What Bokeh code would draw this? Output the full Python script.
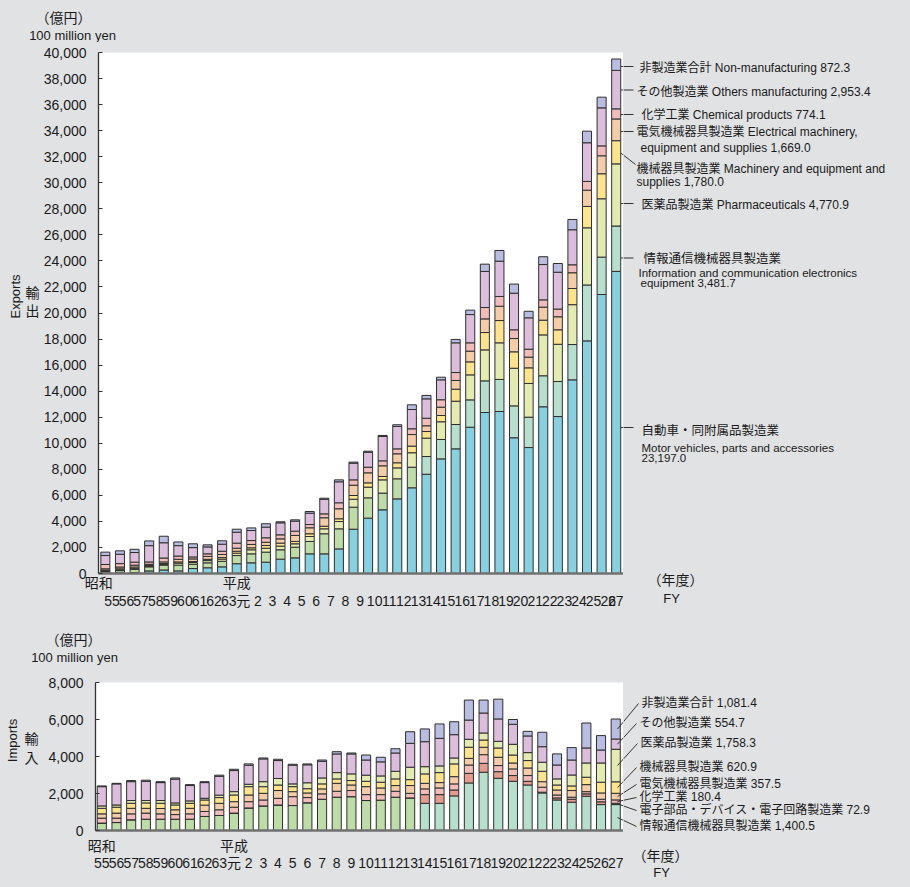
import numpy as np
from bokeh.plotting import figure
from bokeh.models import FixedTicker, Label, LinearAxis, Range1d, NumeralTickFormatter
from bokeh.layouts import column, row
from bokeh.embed import file_html
from bokeh.resources import INLINE

# ---------------- data ----------------
fiscal_years = ["55", "56", "57", "58", "59", "60", "61", "62", "63", "元",
                "2", "3", "4", "5", "6", "7", "8", "9", "10", "11", "12", "13", "14",
                "15", "16", "17", "18", "19", "20", "21", "22", "23", "24", "25", "26", "27"]
eras = ["昭和", "平成"]
era_first_index = [0, 9]

# Exports (100 million yen), stacked bottom -> top
ex_motor = [30, 50, 60, 200, 270, 200, 380, 440, 510, 750, 820, 870, 1100, 1200, 1510, 1510, 1890, 3400,
            4250, 4890, 5730, 6580, 7620, 8800, 9570, 11230, 12360, 12440, 10420, 9670, 12800, 12050,
            14870, 17860, 21420, 23197.0]
ex_info = [120, 170, 260, 310, 370, 440, 330, 380, 430, 630, 690, 770, 720, 820, 950, 1540, 1540, 1690,
           1560, 1280, 1540, 1580, 1360, 1490, 1870, 2100, 2430, 2460, 2450, 2330, 2380, 2690, 2710,
           4290, 2870, 3481.7]
ex_pharma = [50, 60, 80, 50, 60, 150, 130, 170, 160, 180, 310, 300, 280, 260, 380, 380, 560, 610, 820,
             1020, 840, 1110, 1410, 1360, 1790, 1920, 2380, 2810, 2890, 2590, 3140, 2860, 3060, 4390,
             4480, 4770.9]
ex_mach = [60, 80, 100, 50, 60, 100, 80, 100, 120, 150, 150, 210, 230, 180, 210, 200, 210, 290, 330, 260,
           390, 510, 510, 480, 920, 1000, 1330, 1710, 1260, 1200, 1130, 1110, 1240, 1640, 1920, 1780.0]
ex_elec = [100, 140, 140, 100, 130, 200, 200, 220, 240, 230, 260, 250, 330, 460, 460, 650, 770, 790, 770,
           820, 690, 890, 440, 640, 670, 820, 1050, 1100, 1020, 820, 1000, 1000, 1210, 1250, 1380, 1669.0]
ex_chem = [330, 260, 230, 180, 300, 250, 150, 200, 250, 390, 300, 340, 310, 330, 250, 300, 460, 410, 430,
           380, 380, 440, 580, 570, 610, 640, 870, 750, 670, 610, 560, 590, 610, 670, 760, 774.1]
ex_others = [690, 720, 740, 1250, 1170, 800, 720, 530, 540, 840, 770, 820, 920, 770, 870, 1120, 1610, 1280,
             1150, 1870, 1720, 1480, 1490, 1530, 2280, 2170, 2770, 2710, 2810, 2410, 2710, 2830, 2690,
             2970, 2920, 2953.4]
ex_nonmfg = [260, 260, 250, 360, 500, 280, 290, 160, 260, 230, 200, 260, 80, 100, 130, 80, 150, 80, 80, 80,
             130, 360, 260, 200, 260, 340, 560, 820, 700, 500, 600, 670, 790, 890, 820, 872.3]

# Imports (100 million yen), stacked bottom -> top
im_info = [400, 430, 580, 610, 610, 610, 610, 760, 810, 940, 1220, 1330, 1380, 1350, 1500, 1690, 1800, 1830,
           1620, 1640, 1800, 1760, 1470, 1470, 1870, 2570, 3150, 2820, 2660, 2460, 2030, 1650, 1530, 1850,
           1400, 1400.5]
im_parts = [0, 0, 0, 0, 0, 0, 0, 0, 0, 0, 0, 0, 0, 0, 0, 0, 0, 0, 0, 0, 0, 0,
            470, 470, 320, 520, 480, 360, 310, 200, 40, 110, 160, 130, 150, 72.9]
im_chem = [270, 240, 320, 330, 290, 250, 290, 270, 310, 320, 340, 320, 360, 480, 280, 290, 320, 330, 320, 300,
           320, 250, 310, 360, 330, 450, 470, 330, 360, 310, 270, 160, 110, 120, 140, 180.4]
im_elec = [230, 270, 300, 260, 290, 260, 300, 340, 350, 300, 360, 360, 420, 270, 250, 270, 430, 300, 430, 360,
           310, 420, 300, 290, 390, 360, 400, 450, 320, 410, 300, 270, 360, 380, 340, 357.5]
im_mach = [300, 320, 270, 290, 280, 260, 270, 280, 310, 360, 450, 360, 300, 270, 230, 270, 240, 240, 290, 310,
           360, 320, 510, 540, 690, 600, 390, 500, 430, 400, 560, 270, 250, 400, 580, 620.9]
im_pharma = [130, 120, 150, 130, 150, 110, 130, 90, 130, 180, 130, 270, 350, 150, 320, 320, 340, 360, 330, 340,
             410, 670, 390, 360, 320, 430, 380, 360, 580, 430, 490, 330, 590, 770, 1040, 1758.3]
im_others = [1040, 1140, 1020, 1040, 970, 1290, 830, 850, 1020, 1140, 1030, 1230, 970, 1010, 970, 900, 1010,
             1080, 820, 760, 990, 1290, 1350, 1490, 1260, 1040, 1080, 1210, 1080, 900, 840, 750, 810, 810,
             700, 554.7]
im_nonmfg = [40, 30, 60, 60, 50, 60, 50, 50, 60, 70, 70, 50, 70, 50, 50, 70, 120, 50, 270, 250, 230, 630, 690,
             780, 700, 1080, 700, 1070, 260, 250, 780, 600, 670, 1350, 780, 1081.4]

ex_label_lines = ["非製造業合計 Non-manufacturing  872.3",
                  "その他製造業  Others manufacturing 2,953.4",
                  "化学工業 Chemical products  774.1",
                  "電気機械器具製造業 Electrical machinery,",
                  "equipment and supplies  1,669.0",
                  "機械器具製造業 Machinery and equipment and",
                  "supplies  1,780.0",
                  "医薬品製造業 Pharmaceuticals  4,770.9",
                  "情報通信機械器具製造業",
                  "Information and communication electronics",
                  " equipment  3,481.7",
                  "自動車・同附属品製造業",
                  "Motor vehicles, parts and accessories",
                  "23,197.0"]
im_label_lines = ["非製造業合計 1,081.4", "その他製造業 554.7", "医薬品製造業 1,758.3", "機械器具製造業 620.9",
                  "電気機械器具製造業 357.5", "化学工業 180.4", "電子部品・デバイス・電子回路製造業 72.9",
                  "情報通信機械器具製造業 1,400.5"]

# ---------------- style ----------------
BG = "#e1e2e4"
JP = "Noto Sans CJK JP"
LAT = "Liberation Sans"
MIX = "Liberation Sans, Noto Sans CJK JP"
C_MOTOR = "#86d0e0"
C_INFO_OLD = "#bddca8"
C_INFO_NEW = "#b6e0cd"
C_PHARMA = "#e3ebb1"
C_MACH = "#fde48c"
C_ELEC = "#f4cca8"
C_CHEM = "#f2bcbb"
C_OTHERS = "#dcbddc"
C_NONMFG = "#b9bde1"
C_PARTS = "#e39c8e"
EDGE = "#2e2e2e"
TXT = "#1a1a1a"
LEAD = "#333333"

N = len(fiscal_years)
idx = np.arange(N)
info_colors = [C_INFO_OLD if i < 22 else C_INFO_NEW for i in range(N)]

PAGE_W, PAGE_H = 910, 887
SPLIT_X = 623      # right edge of both plot frames
LEFT_W = 40        # narrow strip with the vertical axis titles
BOX_STYLE = {"background-color": BG}


def no_align(p):
    try:
        p.frame_align = False
    except Exception:
        pass
    try:
        p.styles = BOX_STYLE
    except Exception:
        pass


def text_fig(x0, x1, y0, y1):
    """A figure whose frame is the whole canvas; data units == page pixels (y grows downwards)."""
    p = figure(width=int(x1 - x0), height=int(y1 - y0), x_range=Range1d(x0, x1), y_range=Range1d(y1, y0),
               output_backend="svg", toolbar_location=None, x_axis_location=None, y_axis_location=None,
               min_border=0, background_fill_color=BG, border_fill_color=BG, outline_line_color=None)
    p.grid.visible = False
    no_align(p)
    return p


def add_text(p, x, y, text, size="12px", font=MIX, align="left", angle=0.0):
    p.add_layout(Label(x=x, y=y, text=text, text_font=font, text_font_size=size, text_color=TXT,
                       text_align=align, text_baseline="middle", angle=angle))


def main_fig(height, frame, xr, ymax, ystep, era_shift, num_shift, era_standoff, num_standoff):
    fl, fr, ft, fb, top_y = frame
    p = figure(width=SPLIT_X - LEFT_W, height=height, x_range=Range1d(*xr), y_range=Range1d(0, ymax),
               output_backend="svg", toolbar_location=None,
               min_border_left=fl - LEFT_W, min_border_right=0,
               min_border_top=ft - top_y, min_border_bottom=top_y + height - fb,
               background_fill_color="white", border_fill_color=BG, outline_line_color=None)
    no_align(p)
    p.xgrid.visible = False
    p.ygrid.visible = False

    ya = p.yaxis[0]
    ya.ticker = FixedTicker(ticks=list(range(0, ymax + 1, ystep)))
    ya.formatter = NumeralTickFormatter(format="0,0")
    ya.axis_line_color = "#333333"
    ya.axis_line_width = 1.3
    ya.major_tick_in = 4
    ya.major_tick_out = 0
    ya.major_tick_line_color = "#333333"
    ya.minor_tick_line_color = None
    ya.major_label_standoff = 12
    ya.major_label_text_font = LAT
    ya.major_label_text_font_size = "14px"
    ya.major_label_text_color = TXT

    era_ticks = [i + s for i, s in zip(era_first_index, era_shift)]
    xa = p.xaxis[0]
    xa.ticker = FixedTicker(ticks=era_ticks)
    xa.major_label_overrides = {t: e for t, e in zip(era_ticks, eras)}
    xa.axis_line_color = "#707070"
    xa.axis_line_width = 2.5
    xa.major_tick_line_color = None
    xa.minor_tick_line_color = None
    xa.major_tick_in = 0
    xa.major_tick_out = 0
    xa.major_label_standoff = era_standoff
    xa.major_label_text_font = JP
    xa.major_label_text_font_size = "14px"
    xa.major_label_text_color = TXT

    p.extra_x_ranges = {"labels": Range1d(xr[0] - num_shift, xr[1] - num_shift)}
    xn = LinearAxis(x_range_name="labels", ticker=FixedTicker(ticks=list(range(N))),
                    major_label_overrides={i: s for i, s in enumerate(fiscal_years)})
    xn.axis_line_color = None
    xn.major_tick_line_color = None
    xn.minor_tick_line_color = None
    xn.major_tick_in = 0
    xn.major_tick_out = 0
    xn.major_label_standoff = num_standoff
    xn.major_label_text_font = MIX
    xn.major_label_text_font_size = "14px"
    xn.major_label_text_color = TXT
    p.add_layout(xn, "below")
    return p


def stack(p, series, colors):
    bottom = np.zeros(N)
    for vals, col in zip(series, colors):
        top = bottom + np.asarray(vals, dtype=float)
        p.vbar(x=idx, bottom=bottom, top=top, width=0.62, fill_color=col, line_color=EDGE, line_width=1)
        bottom = top
    return bottom


def leader(pm, fx, fy, pr, xs, ys, xe, ye):
    """Line given in page pixels, split between main figure (left of SPLIT_X) and right text figure."""
    if xs < SPLIT_X:
        t = (SPLIT_X - xs) / (xe - xs)
        yb = ys + t * (ye - ys)
        pm.segment(x0=[fx(xs)], y0=[fy(ys)], x1=[fx(SPLIT_X)], y1=[fy(yb)], line_color=LEAD, line_width=1)
        xs, ys = SPLIT_X, yb
    pr.segment(x0=[xs], y0=[ys], x1=[xe], y1=[ye], line_color=LEAD, line_width=1)


# =============== exports section (page y 0 .. 618) ===============
EX_TOP, EX_BOT = 42, 618
EX_FRAME = (98, SPLIT_X, 52, 573, EX_TOP)
ex_xr = (-0.47, 35.5)
ex_head = text_fig(0, PAGE_W, 0, EX_TOP)
ex_left = text_fig(0, LEFT_W, EX_TOP, EX_BOT)
ex_main = main_fig(EX_BOT - EX_TOP, EX_FRAME, ex_xr, 40000, 2000, [-0.45, 0], 0.45, -2, -2)
ex_right = text_fig(SPLIT_X, PAGE_W, EX_TOP, EX_BOT)

stack(ex_main, [ex_motor, ex_info, ex_pharma, ex_mach, ex_elec, ex_chem, ex_others, ex_nonmfg],
      [C_MOTOR, info_colors, C_PHARMA, C_MACH, C_ELEC, C_CHEM, C_OTHERS, C_NONMFG])


def ex_px(px):
    return ex_xr[0] + (px - EX_FRAME[0]) * (ex_xr[1] - ex_xr[0]) / (EX_FRAME[1] - EX_FRAME[0])


def ex_py(py):
    return (EX_FRAME[3] - py) * 40000 / (EX_FRAME[3] - EX_FRAME[2])


add_text(ex_head, 63, 16, "（億円）", "14px", JP, "center")
add_text(ex_head, 72, 35, "100 million yen", "13px", LAT, "center")
add_text(ex_left, 15, 296, "Exports", "13px", LAT, "center", np.pi / 2)
add_text(ex_left, 32, 291, "輸", "14px", JP, "center")
add_text(ex_left, 32, 309, "出", "14px", JP, "center")
add_text(ex_right, 675, 578, "（年度）", "14px", JP, "center")
add_text(ex_right, 671, 598, "FY", "13px", LAT, "center")

ex_label_pos = [(639, 67), (636, 91.5), (641, 114), (636, 131.5), (640, 147.5), (636, 168.5), (636, 181),
                (641, 204.5), (643, 258.5), (638, 272.5), (640, 282.5), (641, 430), (641, 447.5),
                (641, 457)]
ex_label_size = ["12px"] * 8 + ["12.5px", "11.5px", "11.5px", "12.5px", "11.5px", "11.5px"]
for txt, (px, py), sz in zip(ex_label_lines, ex_label_pos, ex_label_size):
    add_text(ex_right, px, py, txt, sz)

for yy in [66, 89.5, 114, 131, 203, 257.5, 427]:
    leader(ex_main, ex_px, ex_py, ex_right, 620.5, yy, 633, yy)
leader(ex_main, ex_px, ex_py, ex_right, 620.5, 152.7, 635, 164)

# =============== imports section (page y 618 .. 887) ===============
IM_TOP = 670
IM_FRAME = (95, SPLIT_X, 682, 830, IM_TOP)
im_xr = (-0.43, 35.53)
im_head = text_fig(0, PAGE_W, EX_BOT, IM_TOP)
im_left = text_fig(0, LEFT_W, IM_TOP, PAGE_H)
im_main = main_fig(PAGE_H - IM_TOP, IM_FRAME, im_xr, 8000, 2000, [0, 0], 0.0, 4, -3)
im_right = text_fig(SPLIT_X, PAGE_W, IM_TOP, PAGE_H)

im_series = [im_info, im_parts, im_chem, im_elec, im_mach, im_pharma, im_others, im_nonmfg]
stack(im_main, im_series, [info_colors, C_PARTS, C_CHEM, C_ELEC, C_MACH, C_PHARMA, C_OTHERS, C_NONMFG])


def im_px(px):
    return im_xr[0] + (px - IM_FRAME[0]) * (im_xr[1] - im_xr[0]) / (IM_FRAME[1] - IM_FRAME[0])


def im_py(py):
    return (IM_FRAME[3] - py) * 8000 / (IM_FRAME[3] - IM_FRAME[2])


def im_val_to_py(v):
    return IM_FRAME[3] - v * (IM_FRAME[3] - IM_FRAME[2]) / 8000


add_text(im_head, 73, 638, "（億円）", "14px", JP, "center")
add_text(im_head, 74, 657, "100 million yen", "13px", LAT, "center")
add_text(im_left, 12, 740, "Imports", "13px", LAT, "center", np.pi / 2)
add_text(im_left, 31, 737, "輸", "14px", JP, "center")
add_text(im_left, 31, 756, "入", "14px", JP, "center")
add_text(im_right, 660, 854, "（年度）", "14px", JP, "center")
add_text(im_right, 661, 872, "FY", "13px", LAT, "center")

im_label_pos = [(641, 702), (639, 722), (640, 742), (639, 766), (639, 783), (639, 796), (639, 809),
                (639, 825)]
for txt, (px, py) in zip(im_label_lines, im_label_pos):
    add_text(im_right, px, py, txt, "12px")

last_vals = np.asarray([s[-1] for s in im_series], dtype=float)
mids = np.cumsum(last_vals) - last_vals / 2.0
series_for_label = [7, 6, 5, 4, 3, 2, 1, 0]
for si, (px, py) in zip(series_for_label, im_label_pos):
    leader(im_main, im_px, im_py, im_right, 617, im_val_to_py(mids[si]), px - 3, py + 1)

layout = column(
    ex_head,
    row(ex_left, ex_main, ex_right, spacing=0, styles=BOX_STYLE),
    im_head,
    row(im_left, im_main, im_right, spacing=0, styles=BOX_STYLE),
    spacing=0,
    styles=BOX_STYLE,
)
open("out.html", "w").write(file_html(layout, INLINE))
